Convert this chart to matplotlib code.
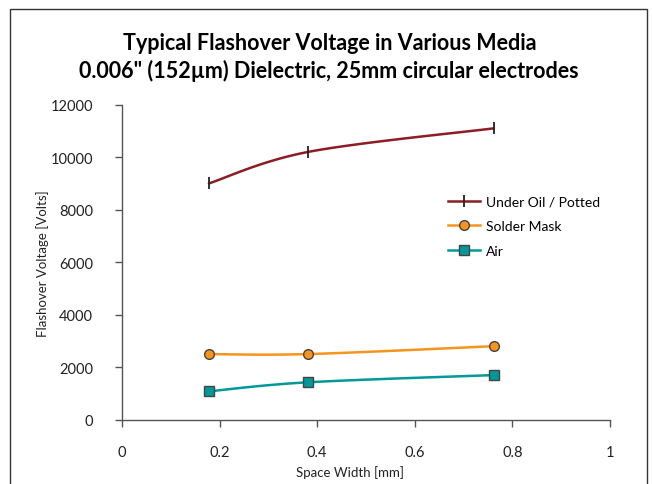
import numpy as np
import matplotlib
matplotlib.use("Agg")
import matplotlib.pyplot as plt
from matplotlib.patches import Rectangle

# ---- data ----
space_width = [0.178, 0.381, 0.762]
oil_potted = [9000, 10200, 11100]
solder_mask = [2500, 2500, 2800]
air = [1080, 1425, 1700]
series_names = ["Under Oil / Potted", "Solder Mask", "Air"]
x_ticks = [0, 0.2, 0.4, 0.6, 0.8, 1]
x_tick_labels = ["0", "0.2", "0.4", "0.6", "0.8", "1"]
y_ticks = [0, 2000, 4000, 6000, 8000, 10000, 12000]
y_tick_labels = ["0", "2000", "4000", "6000", "8000", "10000", "12000"]

plt.rcParams['font.family'] = ['Lato', 'DejaVu Sans']

W, H, DPI = 652, 485, 100
fig = plt.figure(figsize=(W / DPI, H / DPI), dpi=DPI)
fig.patch.set_facecolor("white")

# outer frame
fig.patches.append(Rectangle((10 / W, -0.05), (647 - 10) / W, (H - 10) / H + 0.05,
                             transform=fig.transFigure, fill=False,
                             edgecolor="#333333", linewidth=1.0))

ax = fig.add_axes([122 / W, (H - 420.7) / H, (610 - 122) / W, (420.7 - 105.7) / H])


def smooth(xs, ys, n=40):
    # Catmull-Rom curve through the data points (drawing only)
    sx, sy = 1.0, 12000.0
    P = np.column_stack([np.asarray(xs) / sx, np.asarray(ys) / sy])
    pts = np.vstack([P[0], P, P[-1]])
    out = []
    for i in range(1, len(pts) - 2):
        p0, p1, p2, p3 = pts[i - 1], pts[i], pts[i + 1], pts[i + 2]
        t = np.linspace(0, 1, n)[:, None]
        c = 0.5 * ((2 * p1) + (-p0 + p2) * t + (2 * p0 - 5 * p1 + 4 * p2 - p3) * t ** 2
                   + (-p0 + 3 * p1 - 3 * p2 + p3) * t ** 3)
        out.append(c)
    c = np.vstack(out)
    return c[:, 0] * sx, c[:, 1] * sy


styles = [
    (oil_potted, "#8C1D24", dict(marker="|", markersize=9, markeredgecolor="#222222",
                                 markeredgewidth=1.3)),
    (solder_mask, "#F7941D", dict(marker="o", markersize=7, markerfacecolor="#F7941D",
                                  markeredgecolor="#444444", markeredgewidth=1.0)),
    (air, "#009999", dict(marker="s", markersize=6.5, markerfacecolor="#009999",
                          markeredgecolor="#444444", markeredgewidth=1.0)),
]

handles = []
for (vals, col, mk), name in zip(styles, series_names):
    sx_, sy_ = smooth(space_width, vals)
    ax.plot(sx_, sy_, color=col, linewidth=1.8, solid_capstyle="round", zorder=2)
    ax.plot(space_width, vals, linestyle="none", zorder=3, **mk)
    h, = ax.plot([], [], color=col, linewidth=1.8, **mk)
    handles.append(h)

ax.set_xlim(0, 1)
ax.set_ylim(0, 12000)
ax.set_xticks(x_ticks)
ax.set_xticklabels(x_tick_labels)
ax.set_yticks(y_ticks)
ax.set_yticklabels(y_tick_labels)
for s in ["top", "right"]:
    ax.spines[s].set_visible(False)
for s in ["left", "bottom"]:
    ax.spines[s].set_color("#555555")
    ax.spines[s].set_linewidth(1.0)
ax.tick_params(axis="y", direction="out", length=5, width=1, color="#555555",
               pad=16, labelsize=10.5, labelcolor="#222222")
ax.tick_params(axis="x", direction="out", length=5, width=1, color="#555555",
               pad=13, labelsize=10.5, labelcolor="#222222")

ax.set_xlabel("Space Width [mm]", fontsize=9.5, color="#222222")
ax.xaxis.set_label_coords((350 - 122) / 488, -0.145)
ax.set_ylabel("Flashover Voltage [Volts]", fontsize=9.5, color="#222222")
ax.yaxis.set_label_coords(-(122 - 49) / 488, 0.5)

leg = ax.legend(handles, series_names, loc="upper left",
                bbox_to_anchor=((442 - 122) / (610 - 122), (420.7 - 191) / 315.0),
                frameon=False, fontsize=10, handlelength=2.3, handletextpad=0.5,
                labelspacing=0.9, borderaxespad=0)

fig.text(0.505, (H - 44) / H, "Typical Flashover Voltage in Various Media",
         ha="center", va="center", fontsize=15.5, fontweight="bold", color="#000000")
fig.text(0.505, (H - 71) / H, "0.006\" (152µm) Dielectric, 25mm circular electrodes",
         ha="center", va="center", fontsize=15.5, fontweight="bold", color="#000000")

fig.savefig("out.png", dpi=DPI)
